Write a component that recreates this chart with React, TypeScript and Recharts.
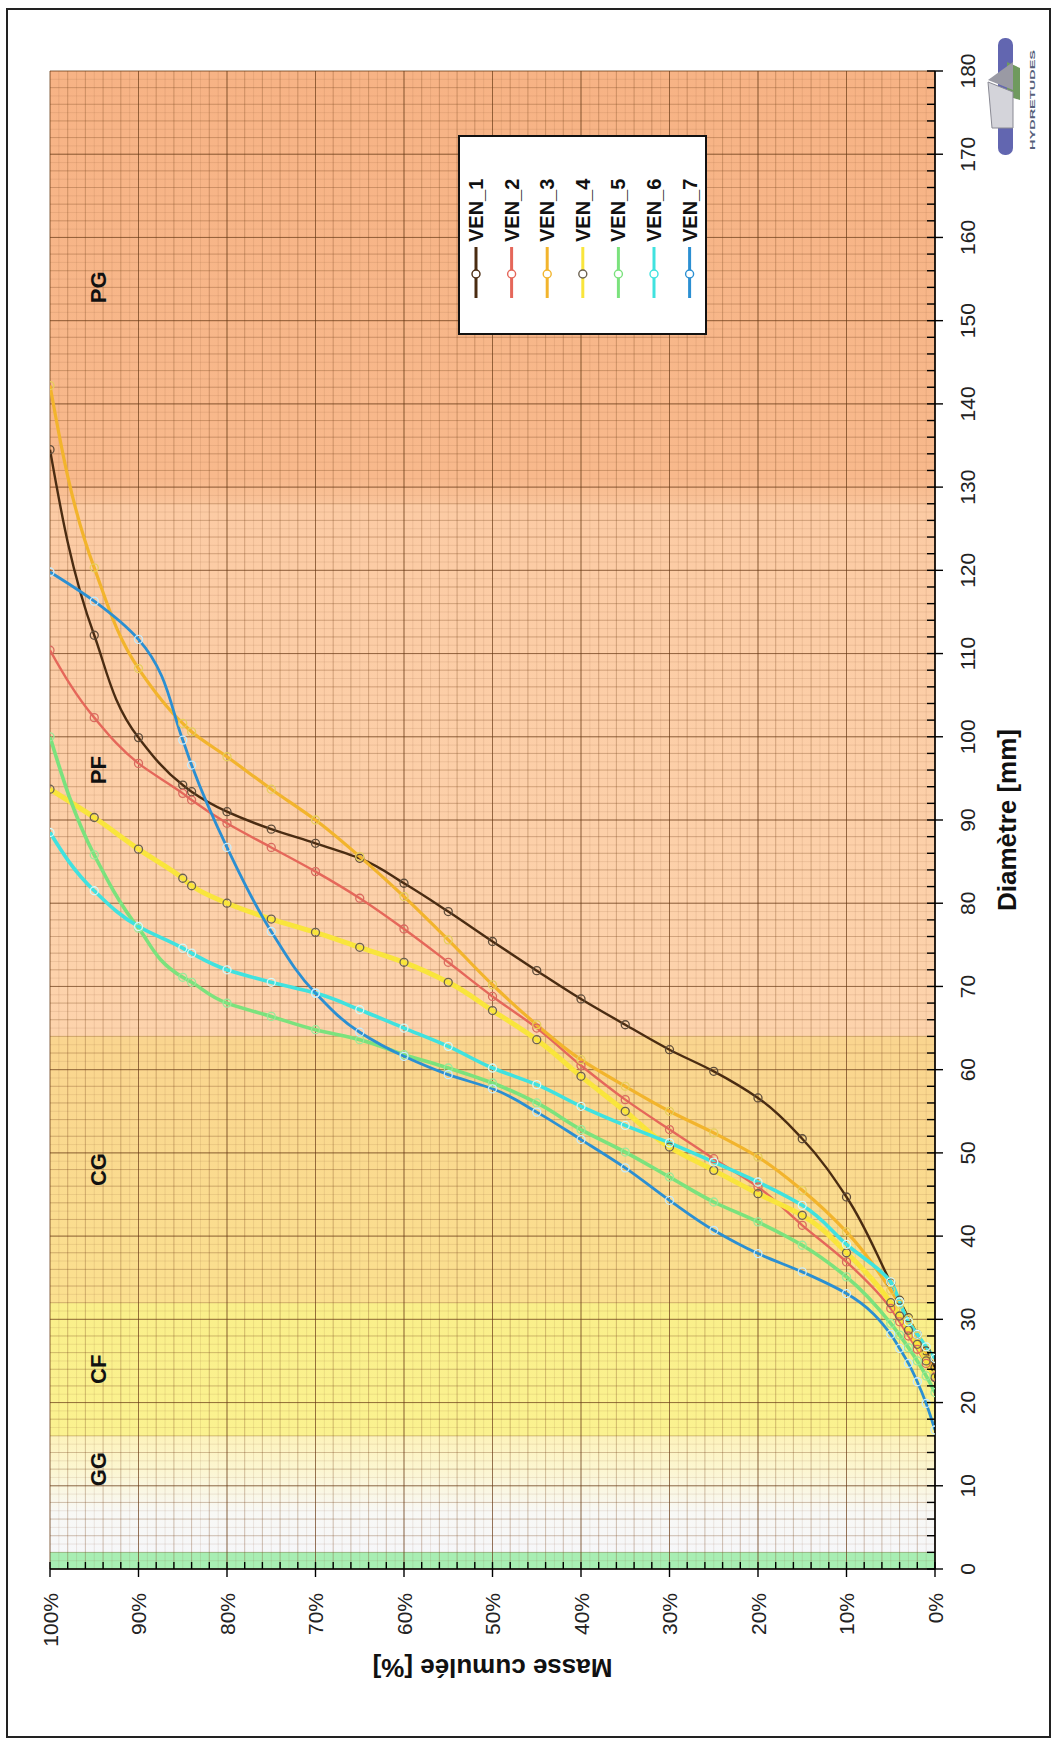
import React from 'react';
import { LineChart, Line, XAxis, YAxis, CartesianGrid, ReferenceDot, Label } from 'recharts';

// Chart is drawn unrotated (Diamètre horizontal, Masse cumulée vertical) then turned -90deg
const W = 1744;
const H = 1060;
const FONT = '"Liberation Sans", Arial, sans-serif';

// cumulative mass levels (%) shared by every sample
const percents = [0, 1, 2, 3, 4, 5, 10, 15, 20, 25, 30, 35, 40, 45, 50, 55, 60, 65, 70, 75, 80, 84, 85, 90, 95, 100];

// diameters (mm) read at each level
const ven1 = [24.2, 26.2, 28.2, 30.2, 32.3, 34.4, 44.7, 51.7, 56.6, 59.8, 62.4, 65.4, 68.5, 71.9, 75.4, 79.0, 82.4, 85.4, 87.2, 88.9, 91.0, 93.4, 94.2, 99.9, 112.2, 134.5];
const ven2 = [23.1, 24.7, 26.4, 28.0, 29.7, 31.3, 36.9, 41.3, 45.9, 49.3, 52.8, 56.4, 60.5, 65.0, 68.8, 72.9, 76.9, 80.6, 83.8, 86.7, 89.6, 92.4, 93.2, 96.8, 102.3, 110.4];
const ven3 = [23.3, 25.8, 28.0, 30.0, 31.8, 33.5, 40.5, 45.5, 49.5, 52.4, 55.0, 58.0, 61.2, 65.4, 70.2, 75.6, 80.8, 85.6, 90.0, 93.7, 97.6, 100.6, 101.6, 108.2, 120.3, 142.2];
const ven4 = [23.0, 25.0, 27.0, 28.7, 30.4, 32.0, 38.0, 42.5, 45.1, 47.9, 50.7, 55.0, 59.2, 63.6, 67.1, 70.5, 72.9, 74.7, 76.5, 78.1, 80.0, 82.1, 83.0, 86.5, 90.3, 93.7];
const ven5 = [21.2, 23.2, 25.0, 26.6, 28.1, 29.5, 35.1, 38.9, 41.7, 44.1, 47.1, 50.1, 52.8, 56.0, 58.4, 60.2, 61.8, 63.6, 64.8, 66.4, 68.0, 70.5, 71.1, 77.0, 85.8, 100.0];
const ven6 = [25.3, 26.7, 28.2, 29.7, 32.1, 34.5, 39.0, 43.7, 46.5, 48.9, 51.2, 53.3, 55.6, 58.2, 60.2, 62.8, 65.0, 67.2, 69.2, 70.5, 72.0, 74.0, 74.6, 77.2, 81.5, 88.5];
const ven7 = [16.7, 19.9, 22.5, 24.7, 26.5, 28.2, 33.1, 35.7, 37.9, 40.7, 44.3, 48.2, 51.6, 54.9, 57.7, 59.4, 61.6, 64.5, 69.2, 76.6, 86.7, 96.6, 99.6, 111.7, 116.3, 119.8];

const seriesNames = ['VEN_1', 'VEN_2', 'VEN_3', 'VEN_4', 'VEN_5', 'VEN_6', 'VEN_7'];
const seriesDiams = [ven1, ven2, ven3, ven4, ven5, ven6, ven7];
const lineColors = ['#4a2c12', '#e5675a', '#f2b42c', '#f9e53c', '#7be27d', '#40e2df', '#2b8fd2'];
const markerColors = ['#5e4c3a', '#d86a5f', '#e6cf5c', '#6b6150', '#9aea9a', '#d2fafa', '#c6ecff'];
const lineWidths = [2.4, 2.4, 3.2, 5, 3.6, 3.6, 2.8];

const diamTicks = [0, 10, 20, 30, 40, 50, 60, 70, 80, 90, 100, 110, 120, 130, 140, 150, 160, 170, 180];
const pctTicks = [0, 10, 20, 30, 40, 50, 60, 70, 80, 90, 100];

// grain size classes
const zoneNames = ['GG', 'CF', 'CG', 'PF', 'PG'];
const zoneCenters = [12, 24, 48, 96, 154];
const zoneLabelPct = 94.6;

// background colour stops along the diameter axis [mm, colour]
const bandStops: [number, string][] = [
  [0, '#a8eeb3'], [2, '#a8eeb3'], [2, '#f6f7f9'], [7, '#f8f8f5'], [12, '#fcf6d0'], [16, '#fdf3bc'],
  [16, '#fbf290'], [32, '#faef8a'], [32, '#fbe08f'], [64, '#fad58f'],
  [64, '#fdd3ac'], [128, '#fccba4'], [128, '#fac49a'], [131, '#f8b98c'], [180, '#f7b385'],
];

const steps = (max: number, step: number) => Array.from({ length: Math.floor(max / step) + 1 }, (_, i) => i * step);
const mm1 = steps(180, 1);
const mm2 = steps(180, 2);
const pct1 = steps(100, 1);
const pct2 = steps(100, 2);

const series = seriesNames.map((name, i) => ({
  name,
  data: percents.map((p, k) => ({ p, d: seriesDiams[i][k] })),
}));

const DiamTick = ({ x, y, payload }: any) => {
  const v = payload.value;
  const major = v % 10 === 0;
  return (
    <g>
      <line x1={x} x2={x} y1={y - 8} y2={major ? y + 8 : y} stroke="#000" strokeWidth={1.4} />
      {major ? (
        <text x={x} y={y + 40} textAnchor="middle" fontSize={21} fontFamily={FONT} fill="#222">{v}</text>
      ) : null}
    </g>
  );
};

const PctTick = ({ x, y, payload }: any) => {
  const v = payload.value;
  const major = v % 10 === 0;
  return (
    <g>
      <line x1={major ? x - 8 : x} x2={x + 7} y1={y} y2={y} stroke="#000" strokeWidth={1.4} />
      {major ? (
        <text x={x - 24} y={y} textAnchor="end" dominantBaseline="central" fontSize={21} fontFamily={FONT} fill="#222">{`${v}%`}</text>
      ) : null}
    </g>
  );
};

const DiamTitle = (props: any) => {
  const vb = props.viewBox || { x: 175, y: 935, width: 1498, height: 90 };
  return (
    <text x={vb.x + vb.width / 2} y={vb.y + 72} textAnchor="middle" dominantBaseline="central"
      fontSize={26} fontWeight={700} fontFamily={FONT} fill="#111">Diamètre [mm]</text>
  );
};

const PctTitle = (props: any) => {
  const vb = props.viewBox || { x: 35, y: 50, width: 140, height: 885 };
  const cx = vb.x + 41;
  const cy = vb.y + vb.height / 2;
  return (
    <text x={cx} y={cy} transform={`rotate(-90, ${cx}, ${cy})`} textAnchor="middle" dominantBaseline="central"
      fontSize={26} fontWeight={700} fontFamily={FONT} fill="#111">Masse cumulée [%]</text>
  );
};

const LegendBox = () => (
  <div style={{ position: 'absolute', left: 1409, top: 458, width: 200, height: 249, background: '#fff', border: '2px solid #111', boxSizing: 'border-box' }}>
    <svg width={196} height={245} style={{ display: 'block' }}>
      {series.map((s, i) => {
        const y = 16 + i * 35.6;
        return (
          <g key={s.name}>
            <line x1={35} x2={86} y1={y} y2={y} stroke={lineColors[i]} strokeWidth={3} />
            <circle cx={59} cy={y} r={4} fill="#fff" stroke={i === 3 ? '#6b6150' : lineColors[i]} strokeWidth={1.4} />
            <text x={91} y={y} dominantBaseline="central" fontSize={20} fontWeight={700} fontFamily={FONT} fill="#111">{s.name}</text>
          </g>
        );
      })}
    </svg>
  </div>
);

const Logo = () => (
  <svg style={{ position: 'absolute', left: 980, top: 30, overflow: 'visible' }} width={70} height={135}>
    <rect x={18} y={8} width={15} height={117} rx={7} fill="#6266b0" />
    <polygon points="27,32 40,38 40,70 27,66" fill="#6f9a5e" />
    <polygon points="8,50 33,32 33,60" fill="#9a9aa4" />
    <polygon points="8,52 33,62 33,98 12,98" fill="#d4d4da" stroke="#8a8a94" strokeWidth={1} />
    <text x={55} y={120} transform="rotate(-90, 55, 120)" fontSize={8} fontWeight={700} fontFamily={FONT} fill="#55607a"
      textLength={100} lengthAdjust="spacingAndGlyphs">HYDRETUDES</text>
  </svg>
);

export default function App() {
  return (
    <div style={{ position: 'absolute', left: 0, top: 0, width: 1060, height: 1744, background: '#fff', overflow: 'hidden' }}>
      <div style={{ position: 'absolute', left: 0, top: 0, width: W, height: H, transformOrigin: '0 0', transform: `translateY(${W}px) rotate(-90deg)` }}>
        <LineChart width={W} height={H} margin={{ top: 50, right: 71, bottom: 35, left: 35 }}>
          <defs>
            <linearGradient id="bandGrad" x1="0" y1="0" x2="1" y2="0">
              {bandStops.map(([d, c], i) => (
                <stop key={i} offset={d / 180} stopColor={c} />
              ))}
            </linearGradient>
          </defs>
          <CartesianGrid fill="url(#bandGrad)" fillOpacity={1} stroke="rgba(130,80,40,0.15)" strokeWidth={0.8}
            verticalValues={mm1} horizontalValues={pct1} />
          <CartesianGrid stroke="rgba(120,70,30,0.3)" strokeWidth={0.8} verticalValues={mm2} horizontalValues={pct2} />
          <CartesianGrid stroke="rgba(100,55,20,0.55)" strokeWidth={1} verticalValues={diamTicks} horizontalValues={pctTicks} />
          <XAxis type="number" dataKey="d" domain={[0, 180]} allowDataOverflow ticks={mm2} interval={0}
            tickSize={0} tickMargin={0} tickLine={false} tick={(p: any) => <DiamTick {...p} />}
            axisLine={{ stroke: '#000', strokeWidth: 1.6 }} height={90}
            label={<Label content={DiamTitle} />} />
          <YAxis type="number" dataKey="p" domain={[0, 100]} allowDataOverflow ticks={pct2} interval={0}
            tickSize={0} tickMargin={0} tickLine={false} tick={(p: any) => <PctTick {...p} />}
            axisLine={{ stroke: '#000', strokeWidth: 1.6 }} width={140}
            label={<Label content={PctTitle} />} />
          {zoneNames.map((z, i) => (
            <ReferenceDot key={z} x={zoneCenters[i]} y={zoneLabelPct} r={0} fill="none" stroke="none"
              label={{ value: z, position: 'center', fontSize: 22, fontWeight: 700, fill: '#111', fontFamily: FONT }} />
          ))}
          {series.map((s, i) => (
            <Line key={s.name} data={s.data} dataKey="p" name={s.name} type="monotone"
              stroke={lineColors[i]} strokeWidth={lineWidths[i]}
              dot={{ r: 4, stroke: markerColors[i], strokeWidth: 1.3, fill: 'none' }}
              activeDot={false} isAnimationActive={false} />
          ))}
        </LineChart>
        <LegendBox />
      </div>
      <div style={{ position: 'absolute', left: 6, top: 8, width: 1045, height: 1730, border: '2px solid #222', boxSizing: 'border-box', pointerEvents: 'none' }} />
      <Logo />
    </div>
  );
}
